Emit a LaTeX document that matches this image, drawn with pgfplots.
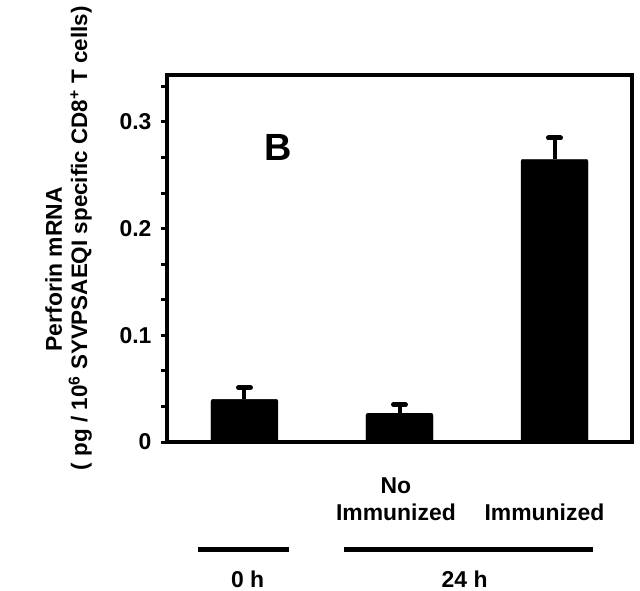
\documentclass[border=0pt]{standalone}
\usepackage{fontspec}
\setmainfont{Liberation Sans}
\usepackage{pgfplots}
\pgfplotsset{compat=1.18}
\newcommand\lab{\bfseries\fontsize{23}{27}\selectfont}
\begin{document}
\begin{tikzpicture}
\begin{axis}[
  scale only axis, width=465bp, height=367bp,
  xmin=-0.5, xmax=2.5, ymin=0, ymax=0.344,
  axis line style={line width=4bp, black},
  xtick=\empty,
  ytick={0,0.1,0.2,0.3},
  minor ytick={0.0333,0.0667,0.1333,0.1667,0.2333,0.2667,0.3333},
  ytick pos=left, tick align=outside,
  major tick length=6bp, minor tick length=6bp,
  tick style={black, line width=3bp},
  /pgf/number format/assume math mode=true,
  yticklabel style={font=\lab, xshift=-6bp},
  clip=false,
]
\addplot[ybar, fill=black, draw=black, bar width=67bp, rounded corners=2bp,
  error bars/.cd, y dir=plus, y explicit,
  error bar style={line width=4bp, black},
  error mark options={rotate=90, line width=5bp, mark size=6bp, black, line cap=round}]
  coordinates {(0,0.040) +- (0,0.011) (1,0.027) +- (0,0.008) (2,0.265) +- (0,0.020)};
\node[font=\bfseries\fontsize{38}{42}\selectfont] at (axis cs:0.22,0.2756) {B};
\node[anchor=base, font=\lab] at (axis cs:0.977,-0.0487) {No};
\node[anchor=base, font=\lab] at (axis cs:0.977,-0.074) {Immunized};
\node[anchor=base, font=\lab] at (axis cs:1.935,-0.074) {Immunized};
\draw[line width=5bp] (axis cs:-0.30,-0.1012) -- (axis cs:0.285,-0.1012);
\draw[line width=5bp] (axis cs:0.64,-0.1012) -- (axis cs:2.25,-0.1012);
\node[anchor=base, font=\lab] at (axis cs:0.02,-0.136) {0 h};
\node[anchor=base, font=\lab] at (axis cs:1.42,-0.136) {24 h};
\node[rotate=90, anchor=base, font=\lab] at (axis cs:-1.178,0.162) {Perforin mRNA};
\node[rotate=90, anchor=base, font=\bfseries\fontsize{22.5}{27}\selectfont] at (axis cs:-1.016,0.191) {( pg / 10\textsuperscript{6} SYVPSAEQI specific CD8\textsuperscript{+} T cells)};
\end{axis}
\path[use as bounding box] (current axis.south west) ++(-167bp,-146bp) rectangle ++(640bp,588bp);
\end{tikzpicture}
\end{document}
